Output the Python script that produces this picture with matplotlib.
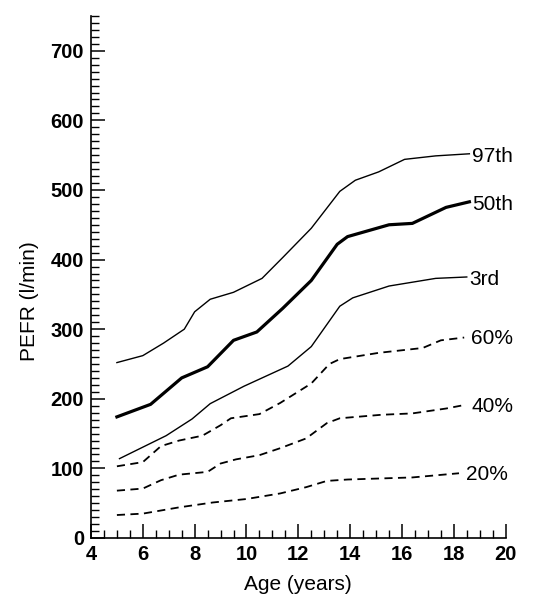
import numpy as np
import matplotlib
matplotlib.use("Agg")
import matplotlib.pyplot as plt
from matplotlib.ticker import MultipleLocator

plt.rcParams['font.family'] = ['Liberation Sans', 'DejaVu Sans']

# percentile curves
age_97 = [5.0, 6.0, 6.8, 7.6, 8.0, 8.6, 9.5, 10.6, 11.4, 12.5, 13.6, 14.2, 15.1, 16.1, 17.3, 18.6]
pefr_97 = [252, 262, 280, 300, 325, 343, 353, 373, 403, 445, 498, 514, 526, 544, 549, 552]

age_50 = [5.0, 6.3, 7.5, 8.5, 9.5, 10.4, 11.4, 12.5, 13.5, 13.9, 15.5, 16.4, 17.7, 18.6]
pefr_50 = [174, 192, 230, 246, 284, 296, 330, 370, 422, 433, 450, 452, 475, 483]

age_3 = [5.1, 6.9, 7.9, 8.6, 9.9, 11.6, 12.5, 13.6, 14.1, 15.5, 17.3, 18.5]
pefr_3 = [114, 147, 171, 193, 218, 247, 275, 333, 345, 362, 373, 375]

# % of predicted (dashed)
age_60 = [5.0, 6.0, 6.7, 7.4, 8.3, 9.0, 9.4, 10.5, 11.3, 12.5, 13.2, 13.6, 15.1, 16.8, 17.5, 18.4]
pefr_60 = [103, 109, 132, 140, 147, 162, 172, 178, 194, 222, 250, 257, 266, 273, 284, 288]

age_40 = [5.0, 6.0, 6.7, 7.4, 8.5, 9.0, 9.6, 10.5, 11.3, 12.3, 13.1, 13.6, 15.2, 16.4, 17.7, 18.4]
pefr_40 = [68, 71, 83, 91, 95, 107, 113, 119, 129, 143, 165, 172, 177, 179, 186, 191]

age_20 = [5.0, 6.0, 7.4, 8.7, 10.0, 11.3, 12.3, 13.1, 13.9, 16.4, 18.2]
pefr_20 = [33, 35, 44, 51, 56, 64, 73, 82, 84, 87, 93]

solid = [("97th", age_97, pefr_97, 1.0), ("50th", age_50, pefr_50, 2.3), ("3rd", age_3, pefr_3, 1.0)]
dashed = [("60%", age_60, pefr_60), ("40%", age_40, pefr_40), ("20%", age_20, pefr_20)]

fig = plt.figure(figsize=(5.33, 5.94), dpi=100)
ax = fig.add_axes([0.1707, 0.0943, 0.778, 0.8788])

for name, x, y, lw in solid:
    ax.plot(x, y, color='black', lw=lw, solid_joinstyle='round')
    ax.annotate(name, xy=(x[-1], y[-1]), xytext=(2, -2), textcoords='offset points',
                va='center', ha='left', fontsize=15, annotation_clip=False)

for name, x, y in dashed:
    ax.plot(x, y, color='black', lw=1.3, linestyle=(0, (4.5, 3)))
    ax.annotate(name, xy=(x[-1], y[-1]), xytext=(5, -1), textcoords='offset points',
                va='center', ha='left', fontsize=15, annotation_clip=False)

ax.set_xlim(4, 20)
ax.set_ylim(0, 750)
ax.set_xticks(np.arange(4, 21, 2))
ax.set_yticks(np.arange(0, 701, 100))
ax.xaxis.set_minor_locator(MultipleLocator(0.5))
ax.yaxis.set_minor_locator(MultipleLocator(10))

for s in ['top', 'right']:
    ax.spines[s].set_visible(False)
for s in ['left', 'bottom']:
    ax.spines[s].set_linewidth(1.2)

ax.tick_params(which='major', direction='in', length=10, width=1.1, pad=5, labelsize=14.5)
ax.tick_params(which='minor', direction='in', length=6, width=1.0)
for lab in ax.get_xticklabels() + ax.get_yticklabels():
    lab.set_fontweight('bold')

ax.set_xlabel('Age (years)', fontsize=15, labelpad=8)
ax.set_ylabel('PEFR (l/min)', fontsize=15)
ax.yaxis.set_label_coords(-0.125, 0.454)

fig.savefig('out.png', dpi=100)
